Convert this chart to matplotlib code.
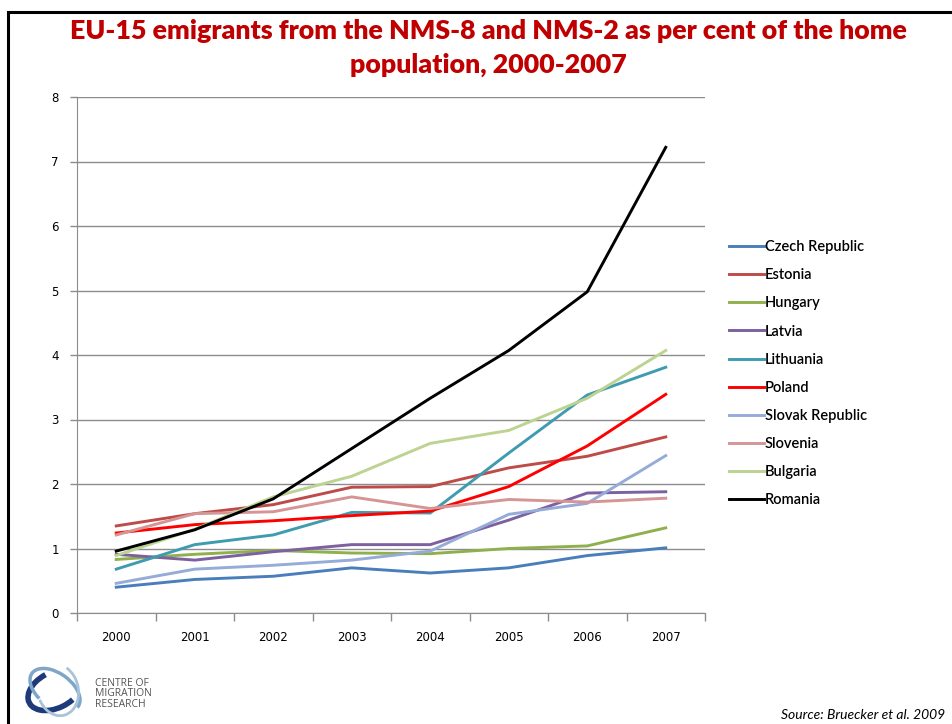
import matplotlib.pyplot as plt
import numpy as np
from matplotlib.patches import Rectangle, Arc

years = ['2000', '2001', '2002', '2003', '2004', '2005', '2006', '2007']

countries = ['Czech Republic', 'Estonia', 'Hungary', 'Latvia', 'Lithuania',
             'Poland', 'Slovak Republic', 'Slovenia', 'Bulgaria', 'Romania']

czech = [0.40, 0.52, 0.57, 0.70, 0.62, 0.70, 0.89, 1.01]
estonia = [1.35, 1.54, 1.68, 1.95, 1.96, 2.25, 2.43, 2.73]
hungary = [0.83, 0.91, 0.97, 0.93, 0.92, 1.00, 1.04, 1.32]
latvia = [0.91, 0.82, 0.95, 1.06, 1.06, 1.44, 1.86, 1.88]
lithuania = [0.68, 1.06, 1.21, 1.56, 1.55, 2.48, 3.38, 3.81]
poland = [1.24, 1.37, 1.43, 1.51, 1.58, 1.96, 2.59, 3.39]
slovakia = [0.46, 0.68, 0.74, 0.82, 0.96, 1.53, 1.70, 2.44]
slovenia = [1.21, 1.54, 1.57, 1.80, 1.62, 1.76, 1.72, 1.78]
bulgaria = [0.89, 1.30, 1.80, 2.12, 2.63, 2.83, 3.33, 4.07]
romania = [0.96, 1.29, 1.77, 2.55, 3.33, 4.07, 4.98, 7.22]

series = [czech, estonia, hungary, latvia, lithuania,
          poland, slovakia, slovenia, bulgaria, romania]
colors = ['#4A7EBB', '#BE4B48', '#8FB04D', '#7D60A0', '#3E9BB0',
          '#FF0000', '#95ABD8', '#D69595', '#BCD392', '#000000']

fig = plt.figure(figsize=(9.52, 7.24), dpi=100)

# slide frame (top and left edges only show)
fig.patches.append(Rectangle((8 / 952, -0.1), 1.2, 1 - 12 / 724 + 0.1,
                             transform=fig.transFigure, fill=False,
                             edgecolor='black', linewidth=2.2))

fig.text(488 / 952, 1 - 48 / 724,
         'EU-15 emigrants from the NMS-8 and NMS-2 as per cent of the home\npopulation, 2000-2007',
         ha='center', va='center', color='#C00000', fontsize=19.3,
         fontweight='heavy', family='Lato', linespacing=1.5)

ax = fig.add_axes([77 / 952, 1 - 613 / 724, 628 / 952, 516 / 724])
x = np.arange(len(years))
for vals, name, c in zip(series, countries, colors):
    ax.plot(x, vals, color=c, linewidth=2.1, label=name, solid_joinstyle='miter')

ax.set_xlim(-0.5, 7.5)
ax.set_ylim(0, 8)
ax.set_yticks(range(0, 9))
ax.yaxis.grid(True, color='#8C8C8C', linewidth=1.0)
ax.set_axisbelow(True)
ax.set_xticks(np.arange(-0.5, 8, 1))
ax.set_xticklabels([])
ax.set_xticks(x, minor=True)
ax.set_xticklabels(years, minor=True)
ax.tick_params(axis='x', which='major', length=6, color='#8C8C8C', width=1)
ax.tick_params(axis='x', which='minor', length=0, pad=13, labelsize=8.5)
ax.tick_params(axis='y', length=5, color='#8C8C8C', width=1, labelsize=8.5, pad=8)
for s in ['top', 'right']:
    ax.spines[s].set_visible(False)
for s in ['left', 'bottom']:
    ax.spines[s].set_color('#8C8C8C')

fig.legend(loc='upper left', bbox_to_anchor=(716 / 952, 1 - 227 / 724),
           frameon=False, handlelength=2.4, handletextpad=0.05,
           labelspacing=0.97,
           prop={'family': 'Lato', 'size': 10.5, 'weight': 'semibold'})

# institute logo
lax = fig.add_axes([20 / 952, 1 - 720 / 724, 70 / 952, 60 / 724])
lax.set_xlim(-1.2, 1.2)
lax.set_ylim(-1.1, 1.1)
lax.axis('off')
lax.add_patch(Arc((0, 0), 2.0, 1.3, angle=30, theta1=90, theta2=300,
                  color='#1F3A7A', linewidth=4))
lax.add_patch(Arc((0, 0), 2.0, 1.2, angle=-40, theta1=0, theta2=250,
                  color='#7FA6C9', linewidth=2.5))
lax.add_patch(Arc((0.1, 0), 1.4, 1.9, angle=10, theta1=200, theta2=420,
                  color='#A9C3DB', linewidth=2))
fig.text(95 / 952, 1 - 694 / 724, 'CENTRE OF\nMIGRATION\nRESEARCH',
         ha='left', va='center', color='#555555', fontsize=7.5,
         family='Open Sans', linespacing=0.95)

fig.text(945 / 952, 1 - 715 / 724, 'Source: Bruecker et al. 2009',
         ha='right', va='center', fontsize=10, style='italic', family='Lato')

fig.savefig('out.png', dpi=100)
